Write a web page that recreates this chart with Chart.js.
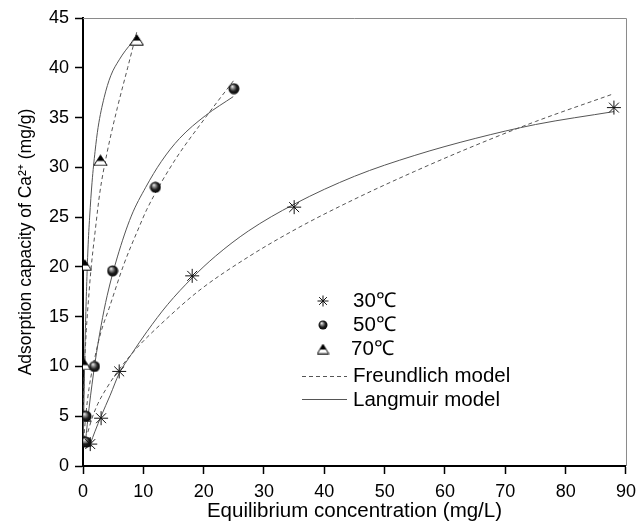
<!DOCTYPE html>
<html><head><meta charset="utf-8">
<script src="https://cdn.jsdelivr.net/npm/chart.js@4/dist/chart.umd.min.js"></script>
<style>html,body{margin:0;padding:0;background:#fff;}#wrap{width:643px;height:531px;}</style>
</head><body><div id="wrap"><canvas id="c" width="643" height="531"></canvas></div>
<script>
// ---- data ----
const seriesLabels = ['30℃', '50℃', '70℃'];
const modelLabels = ['Freundlich model', 'Langmuir model'];
const xTitle = 'Equilibrium concentration (mg/L)';
const yTitle = 'Adsorption capacity of Ca²⁺ (mg/g)';
const xMin = 0, xMax = 90, xStep = 10;
const yMin = 0, yMax = 45, yStep = 5;

// measured points
const ce30 = [1.2, 3.0, 6.0, 18.1, 35.0, 88.0];
const qe30 = [2.2, 4.8, 9.5, 19.1, 26.0, 36.0];
const ce50 = [0.5, 0.5, 1.9, 4.9, 12.0, 25.0];
const qe50 = [2.4, 5.0, 10.0, 19.6, 28.0, 37.9];
const ce70 = [0.2, 0.2, 0.2, 0.3, 2.9, 8.9];
const qe70 = [2.5, 5.0, 10.2, 20.2, 30.7, 42.8];

// fitted curves
const fx30 = [0.8, 1.5, 2.5, 4, 6, 9, 13, 19.2, 27.4, 35.6, 45, 55, 65, 75, 88];
const fy30 = [3.4, 4.8, 6.3, 7.9, 9.7, 11.9, 14.3, 17.6, 21.0, 23.9, 26.8, 29.6, 32.2, 34.6, 37.4];
const lx30 = [1.2, 2, 3, 4.5, 6, 8, 10.6, 14, 18.1, 22, 27.4, 35, 45, 55, 65, 75, 88];
const ly30 = [2.2, 3.5, 5.0, 7.1, 9.3, 11.2, 13.5, 16.2, 18.9, 21.1, 23.6, 26.3, 29.1, 31.2, 32.9, 34.3, 35.6];

const fx50 = [0.2, 0.5, 1, 2, 3, 4.3, 6.8, 9.3, 10.6, 15, 20.3, 25.2];
const fy50 = [3.3, 5.3, 7.8, 11.0, 13.5, 15.8, 20.3, 24.0, 25.8, 30.5, 35.0, 38.9];
const lx50 = [0.4, 1, 2, 3, 4, 5.7, 8, 10.4, 13, 16, 20.3, 24.9];
const ly50 = [2.4, 5.8, 10.4, 14.1, 17.1, 21.0, 25.1, 28.0, 30.6, 32.9, 35.2, 37.1];

const fx70 = [0.05, 0.1, 0.2, 0.55, 1, 1.3, 2, 2.8, 4, 5.7, 7.4, 9.0];
const fy70 = [5.0, 6.6, 9.0, 13.6, 17.4, 19.6, 23.5, 27.5, 31.5, 36.0, 40.0, 43.8];
const lx70 = [0.05, 0.1, 0.2, 0.4, 0.6, 0.82, 1.1, 1.5, 2, 2.5, 3.5, 4.6, 6, 7, 8.2];
const ly70 = [2.3, 4.4, 8.0, 13.8, 18.0, 21.8, 25.0, 28.5, 31.6, 34.0, 37.0, 39.2, 40.8, 41.7, 42.6];

const pts = (xs, ys) => xs.map((x, i) => ({x: x, y: ys[i]}));

// ---- marker images ----
function makeSphere(d) {
  const c = document.createElement('canvas'); c.width = d; c.height = d;
  const g = c.getContext('2d'); const r = d / 2;
  const grd = g.createRadialGradient(r * 0.7, r * 0.6, 0, r, r, r);
  grd.addColorStop(0, '#ffffff'); grd.addColorStop(0.25, '#9a9a9a');
  grd.addColorStop(0.6, '#202020'); grd.addColorStop(1, '#000000');
  g.fillStyle = grd; g.beginPath(); g.arc(r, r, r - 0.5, 0, Math.PI * 2); g.fill();
  return c;
}
function makeTriangle(w, h) {
  const c = document.createElement('canvas'); c.width = w; c.height = h;
  const g = c.getContext('2d');
  const path = () => { g.beginPath(); g.moveTo(w / 2, 0.8); g.lineTo(w - 0.8, h - 0.8); g.lineTo(0.8, h - 0.8); g.closePath(); };
  path(); g.fillStyle = '#fff'; g.fill();
  g.save(); path(); g.clip(); g.fillStyle = '#000'; g.fillRect(0, 0, w, h * 0.55); g.restore();
  path(); g.strokeStyle = '#000'; g.lineWidth = 1; g.stroke();
  return c;
}
const sphere = makeSphere(12), sphereS = makeSphere(10);
const tri = makeTriangle(15, 12), triS = makeTriangle(13, 11);

const curveGray = '#555';
const dash = [4, 3];
function curve(data, dashed) {
  return { data: data, showLine: true, pointRadius: 0, pointHoverRadius: 0,
    borderColor: curveGray, borderWidth: 1, borderDash: dashed ? dash : [],
    cubicInterpolationMode: 'monotone', fill: false };
}

const datasets = [
  { label: seriesLabels[0], data: pts(ce30, qe30), pointStyle: 'star', pointRadius: 7, borderColor: '#111', borderWidth: 1, showLine: false },
  { label: seriesLabels[1], data: pts(ce50, qe50), pointStyle: sphere, pointRadius: 6, showLine: false },
  { label: seriesLabels[2], data: pts(ce70, qe70), pointStyle: tri, pointRadius: 7, showLine: false },
  curve(pts(fx30, fy30), true), curve(pts(lx30, ly30), false),
  curve(pts(fx50, fy50), true), curve(pts(lx50, ly50), false),
  curve(pts(fx70, fy70), true), curve(pts(lx70, ly70), false)
];

const FONT = "'Liberation Sans', Arial, sans-serif";

const framePlugin = {
  id: 'frame',
  beforeDatasetsDraw(chart) {
    const {ctx, chartArea: a} = chart;
    ctx.save(); ctx.strokeStyle = '#8a8a8a'; ctx.lineWidth = 1;
    ctx.beginPath(); ctx.moveTo(a.left, a.top + 0.5); ctx.lineTo(a.right + 0.5, a.top + 0.5); ctx.lineTo(a.right + 0.5, a.bottom);
    ctx.stroke(); ctx.restore();
  }
};

const legendPlugin = {
  id: 'customLegend',
  afterDraw(chart) {
    const ctx = chart.ctx;
    ctx.save();
    ctx.font = '20.5px ' + FONT; ctx.fillStyle = '#000'; ctx.textBaseline = 'middle'; ctx.textAlign = 'left';
    const mx = 323, tx = 353;
    const rows = [301, 325, 349, 376, 400];
    ctx.strokeStyle = '#111';
    Chart.helpers.drawPoint(ctx, {pointStyle: 'star', radius: 5.5, borderWidth: 1}, mx, rows[0]);
    ctx.drawImage(sphereS, mx - 5, rows[1] - 5);
    ctx.drawImage(triS, mx - 6.5, rows[2] - 5.5);
    ctx.fillText(seriesLabels[0], tx, rows[0]);
    ctx.fillText(seriesLabels[1], tx, rows[1]);
    ctx.fillText(seriesLabels[2], tx - 2, rows[2]);
    ctx.strokeStyle = curveGray; ctx.lineWidth = 1;
    ctx.setLineDash(dash);
    ctx.beginPath(); ctx.moveTo(302, rows[3] + 0.5); ctx.lineTo(347, rows[3] + 0.5); ctx.stroke();
    ctx.setLineDash([]);
    ctx.beginPath(); ctx.moveTo(302, rows[4] - 0.5); ctx.lineTo(347, rows[4] - 0.5); ctx.stroke();
    ctx.fillText(modelLabels[0], tx, rows[3]);
    ctx.fillText(modelLabels[1], tx, rows[4]);
    ctx.restore();
  }
};

new Chart(document.getElementById('c'), {
  type: 'scatter',
  data: { datasets: datasets },
  options: {
    responsive: false, animation: false, devicePixelRatio: 1,
    layout: { padding: { top: 18, right: 11, left: 0, bottom: 0 } },
    plugins: { legend: { display: false }, tooltip: { enabled: false } },
    scales: {
      x: {
        type: 'linear', min: xMin, max: xMax,
        ticks: { stepSize: xStep, color: '#000', font: { family: FONT, size: 18 }, padding: 7, maxRotation: 0 },
        grid: { drawOnChartArea: false, drawTicks: true, tickLength: 8, tickColor: '#000', tickWidth: 1.5 },
        border: { color: '#000', width: 2 },
        title: { display: true, text: xTitle, color: '#000', font: { family: FONT, size: 20.5 }, padding: { top: 0, bottom: 7 } },
        afterFit(s) { s.height = 65; }
      },
      y: {
        type: 'linear', min: yMin, max: yMax,
        ticks: { stepSize: yStep, color: '#000', font: { family: FONT, size: 18 }, padding: 6 },
        grid: { drawOnChartArea: false, drawTicks: true, tickLength: 8, tickColor: '#000', tickWidth: 1.5 },
        border: { color: '#000', width: 2 },
        title: { display: true, text: yTitle, color: '#000', font: { family: FONT, size: 17.5 }, padding: { top: 16, bottom: 0 } },
        afterFit(s) { s.width = 83; }
      }
    }
  },
  plugins: [framePlugin, legendPlugin]
});
</script>
</body></html>
